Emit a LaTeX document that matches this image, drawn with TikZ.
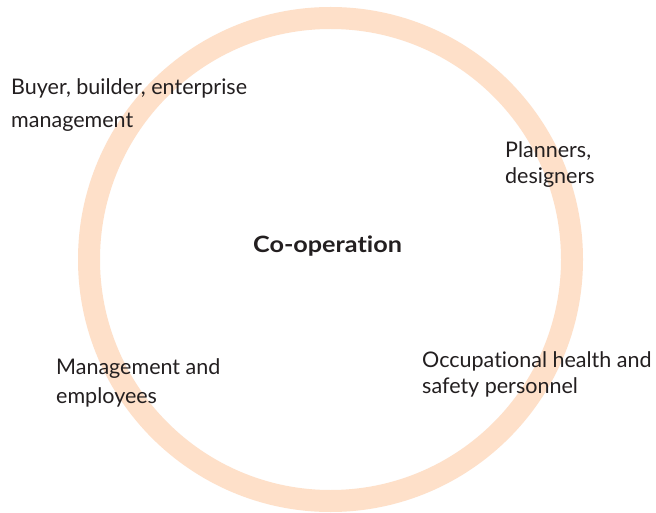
\documentclass[tikz,border=0pt]{standalone}
\usepackage{fontspec}
\setmainfont{Lato}[Ligatures=NoCommon]
\newfontfamily\boldface{Lato Bold}[Ligatures=NoCommon,FakeStretch=1.12]
\definecolor{peach}{RGB}{254,224,201}
\definecolor{ink}{RGB}{35,31,32}
\newcommand{\lines}[2]{\fontsize{21.5}{#1}\selectfont\begin{tabular}[t]{@{}l@{}}#2\end{tabular}}
\begin{document}
\begin{tikzpicture}[x=1pt,y=-1pt,
  lbl/.style={anchor=base west,inner sep=0pt,text=ink}]
\useasboundingbox (0,0) rectangle (656,513);
\fill[white] (0,0) rectangle (656,513);
\node[coordinate] (c) at (330.5,259.5) {};
\draw[line width=22pt,peach] (c) circle (241.5pt);
\node[anchor=base,inner sep=0pt,text=ink,font=\boldface\fontsize{22.5}{26}\selectfont] (co) at (327.5,253) {Co-operation};
\node[lbl] (buyer) at (11,95) {\lines{33}{Buyer, builder, enterprise\\management}};
\node[lbl] (plan) at (505,158) {\lines{26}{Planners,\\designers}};
\node[lbl] (mgmt) at (56,374) {\lines{29}{Management and\\employees}};
\node[lbl] (occ) at (422,367) {\lines{26}{Occupational health and\\safety personnel}};
\end{tikzpicture}
\end{document}
